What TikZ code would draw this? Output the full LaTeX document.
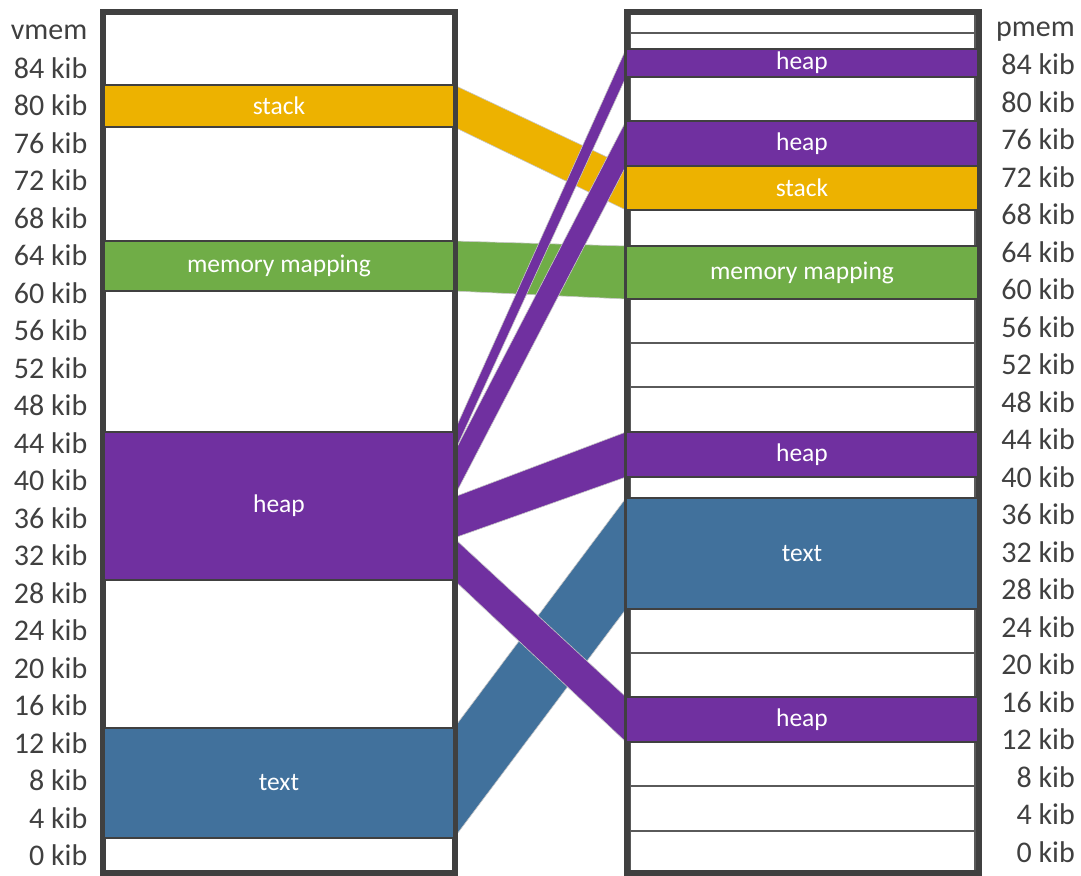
\documentclass[tikz,border=0pt]{standalone}
\usepackage{fontspec}
\setmainfont{Carlito}
\definecolor{framegray}{HTML}{404040}
\definecolor{rowgray}{HTML}{5A5A5A}
\definecolor{labelgray}{HTML}{404040}
\definecolor{stackgold}{HTML}{EDB200}
\definecolor{mapgreen}{HTML}{70AD47}
\definecolor{heappurple}{HTML}{7030A0}
\definecolor{textblue}{HTML}{41719C}
\pgfdeclarelayer{bands}
\pgfsetlayers{bands,main}
\tikzset{
  seg/.style={draw=framegray, line width=2.5pt, outer sep=0pt, inner sep=0pt,
    text=white, font=\fontsize{25.5}{30}\selectfont},
  vseg/.style={seg, minimum width=350pt},
  pseg/.style={seg, minimum width=352pt},
  blankrow/.style={draw=rowgray, line width=2.5pt, fill=white},
  colframe/.style={draw=framegray, line width=6pt},
  band/.style={draw=black!22, line width=0.6pt},
  axislabel/.style={anchor=base east, inner sep=0pt, text=labelgray,
    font=\fontsize{30}{36}\selectfont},
}
\begin{document}
\begin{tikzpicture}[x=1pt,y=-1pt]
\useasboundingbox (0,0) rectangle (1081,875);

% physical memory: unused pages
\foreach \ya/\yb in {12/33,33/49,77/121,210/246,299/343,343/387,387/432,
                     477/498,609/653,653/697,742/786,786/831,831/872}
  \draw[blankrow] (629.5,\ya) rectangle (975.5,\yb);

% column frames
\draw[colframe] (103,12) rectangle (454.5,873);
\draw[colframe] (626.5,12) rectangle (978.5,873);

% virtual memory segments
\node[vseg, fill=stackgold,  minimum height=42pt]  (vstack) at (279,106)   {stack};
\node[vseg, fill=mapgreen,   minimum height=50pt]  (vmm)    at (279,266)   {memory mapping};
\node[vseg, fill=heappurple, minimum height=148pt] (vheap)  at (279,506)   {heap};
\node[vseg, fill=textblue,   minimum height=110pt] (vtext)  at (279,783)   {text};

% physical memory segments
\node[pseg, fill=heappurple, minimum height=28pt]  (pheapA) at (802,63)    {heap};
\node[pseg, fill=heappurple, minimum height=45pt]  (pheapB) at (802,143.5) {heap};
\node[pseg, fill=stackgold,  minimum height=44pt]  (pstack) at (802,188)   {stack};
\node[pseg, fill=mapgreen,   minimum height=53pt]  (pmm)    at (802,272.5) {memory mapping};
\node[pseg, fill=heappurple, minimum height=45pt]  (pheapC) at (802,454.5) {heap};
\node[pseg, fill=textblue,   minimum height=111pt] (ptext)  at (802,553.5) {text};
\node[pseg, fill=heappurple, minimum height=45pt]  (pheapD) at (802,719.5) {heap};

% split points of the virtual heap
\coordinate (vh1) at (454,453);
\coordinate (vh2) at (454,497);
\coordinate (vh3) at (454,538);

% mapping bands
\begin{pgfonlayer}{bands}
  \filldraw[band, fill=stackgold] (vstack.north east) -- (pstack.north west)
    -- (pstack.south west) -- (vstack.south east) -- cycle;
  \filldraw[band, fill=mapgreen] (vmm.north east) -- (pmm.north west)
    -- (pmm.south west) -- (vmm.south east) -- cycle;
  \filldraw[band, fill=textblue] (vtext.north east) -- (ptext.north west)
    -- (ptext.south west) -- (vtext.south east) -- cycle;
  \filldraw[band, fill=heappurple] (vheap.north east) -- (pheapA.north west)
    -- (pheapA.south west) -- (vh1) -- cycle;
  \filldraw[band, fill=heappurple] (vh1) -- (pheapB.north west)
    -- (pheapB.south west) -- (vh2) -- cycle;
  \filldraw[band, fill=heappurple] (vh2) -- (pheapC.north west)
    -- (pheapC.south west) -- (vh3) -- cycle;
  \filldraw[band, fill=heappurple] (vh3) -- (pheapD.north west)
    -- (pheapD.south west) -- (vheap.south east) -- cycle;
\end{pgfonlayer}

% address scales
\node[axislabel] (vtitle) at (87.5,40) {vmem};
\foreach \v [count=\i from 0] in {84,80,...,0}
  \node[axislabel] (vlab\v) at (87.5,{78+37.52*\i}) {\v\ kib};
\node[axislabel] (ptitle) at (1075,37) {pmem};
\foreach \v [count=\i from 0] in {84,80,...,0}
  \node[axislabel] (plab\v) at (1075,{74.8+37.5*\i}) {\v\ kib};
\end{tikzpicture}
\end{document}
